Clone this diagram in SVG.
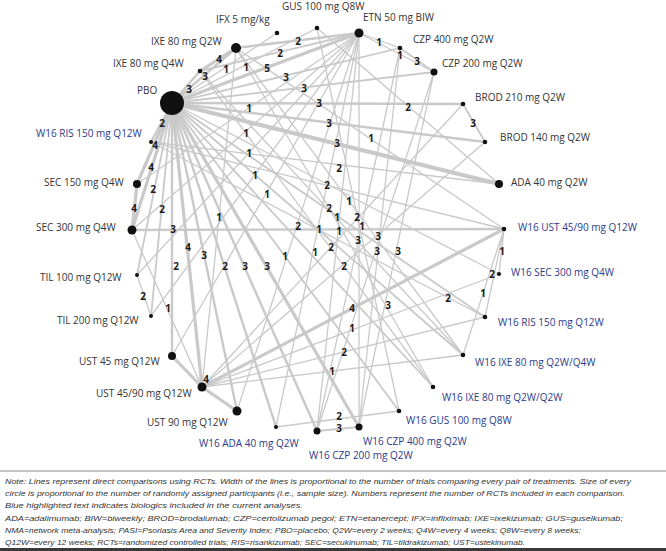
<svg xmlns="http://www.w3.org/2000/svg" width="666" height="551" viewBox="0 0 666 551">
<style>
.e line{stroke:#c9c9c9;fill:none;stroke-linecap:round}
.w1{stroke-width:1.3}.w2{stroke-width:1.8}.w3{stroke-width:2.4}.w4{stroke-width:3.2}.w5{stroke-width:4.2}
.n circle{fill:#111}
.t{font-family:"Open Sans","Liberation Sans",sans-serif;font-size:10px;fill:#333}
.b{fill:#2b3a8c}
.l{font-family:"Open Sans","Liberation Sans",sans-serif;font-size:10px;font-weight:700;fill:#1a1a1a;text-anchor:middle}
.note{font-family:"Liberation Sans",sans-serif;font-size:8px;font-style:italic;fill:#333}
</style>
<rect width="666" height="551" fill="#fff"/>
<g id="connectors" class="e">
<line class="w3" x1="172" y1="103" x2="200" y2="71"/>
<line class="w3" x1="172" y1="103" x2="236" y2="48"/>
<line class="w4" x1="236" y1="48" x2="200" y2="71"/>
<line class="w3" x1="359" y1="33" x2="236" y2="48"/>
<line class="w2" x1="359" y1="33" x2="200" y2="71"/>
<line class="w1" x1="172" y1="103" x2="277" y2="33"/>
<line class="w1" x1="172" y1="103" x2="317" y2="28"/>
<line class="w4" x1="172" y1="103" x2="359" y2="33"/>
<line class="w2" x1="172" y1="103" x2="400" y2="48"/>
<line class="w2" x1="172" y1="103" x2="434" y2="72"/>
<line class="w1" x1="359" y1="33" x2="400" y2="48"/>
<line class="w1" x1="359" y1="33" x2="434" y2="72"/>
<line class="w2" x1="400" y1="48" x2="434" y2="72"/>
<line class="w3" x1="172" y1="103" x2="463" y2="104"/>
<line class="w3" x1="172" y1="103" x2="485" y2="142"/>
<line class="w2" x1="463" y1="104" x2="485" y2="142"/>
<line class="w5" x1="172" y1="103" x2="499" y2="184"/>
<line class="w1" x1="137" y1="184" x2="359" y2="33"/>
<line class="w1" x1="132" y1="230" x2="359" y2="33"/>
<line class="w1" x1="137" y1="275" x2="359" y2="33"/>
<line class="w1" x1="151" y1="316" x2="359" y2="33"/>
<line class="w1" x1="172" y1="356" x2="359" y2="33"/>
<line class="w1" x1="237" y1="411" x2="359" y2="33"/>
<line class="w1" x1="236" y1="48" x2="202" y2="387"/>
<line class="w4" x1="172" y1="103" x2="137" y2="184"/>
<line class="w4" x1="172" y1="103" x2="132" y2="230"/>
<line class="w4" x1="137" y1="184" x2="132" y2="230"/>
<line class="w2" x1="172" y1="103" x2="137" y2="275"/>
<line class="w2" x1="172" y1="103" x2="151" y2="316"/>
<line class="w1" x1="137" y1="275" x2="151" y2="316"/>
<line class="w3" x1="172" y1="103" x2="172" y2="356"/>
<line class="w4" x1="172" y1="103" x2="202" y2="387"/>
<line class="w3" x1="172" y1="103" x2="237" y2="411"/>
<line class="w4" x1="172" y1="356" x2="202" y2="387"/>
<line class="w4" x1="202" y1="387" x2="237" y2="411"/>
<line class="w3" x1="132" y1="230" x2="504" y2="229"/>
<line class="w4" x1="202" y1="387" x2="504" y2="229"/>
<line class="w1" x1="202" y1="387" x2="499" y2="274"/>
<line class="w1" x1="202" y1="387" x2="485" y2="317"/>
<line class="w1" x1="202" y1="387" x2="463" y2="355"/>
<line class="w1" x1="504" y1="229" x2="499" y2="274"/>
<line class="w1" x1="504" y1="229" x2="485" y2="317"/>
<line class="w1" x1="504" y1="229" x2="463" y2="355"/>
<line class="w1" x1="236" y1="48" x2="504" y2="229"/>
<line class="w3" x1="172" y1="103" x2="276" y2="427"/>
<line class="w3" x1="172" y1="103" x2="317" y2="431"/>
<line class="w4" x1="172" y1="103" x2="359" y2="427"/>
<line class="w2" x1="317" y1="431" x2="359" y2="427"/>
<line class="w1" x1="359" y1="33" x2="359" y2="427"/>
<line class="w1" x1="359" y1="33" x2="317" y2="431"/>
<line class="w1" x1="276" y1="427" x2="399" y2="411"/>
<line class="w2" x1="172" y1="103" x2="399" y2="411"/>
<line class="w2" x1="172" y1="103" x2="433" y2="387"/>
<line class="w2" x1="172" y1="103" x2="463" y2="355"/>
<line class="w2" x1="172" y1="103" x2="485" y2="317"/>
<line class="w1" x1="151" y1="142" x2="485" y2="317"/>
<line class="w3" x1="172" y1="103" x2="151" y2="142"/>
<line class="w1" x1="202" y1="387" x2="463" y2="104"/>
<line class="w1" x1="202" y1="387" x2="485" y2="142"/>
<line class="w1" x1="236" y1="48" x2="433" y2="387"/>
<line class="w1" x1="236" y1="48" x2="463" y2="355"/>
<line class="w1" x1="200" y1="71" x2="433" y2="387"/>
<line class="w1" x1="200" y1="71" x2="463" y2="355"/>
<line class="w1" x1="317" y1="28" x2="399" y2="411"/>
<line class="w1" x1="317" y1="28" x2="499" y2="184"/>
<line class="w1" x1="359" y1="33" x2="276" y2="427"/>
<line class="w1" x1="400" y1="48" x2="359" y2="427"/>
<line class="w1" x1="400" y1="48" x2="317" y2="431"/>
<line class="w1" x1="434" y1="72" x2="317" y2="431"/>
<line class="w1" x1="434" y1="72" x2="359" y2="427"/>
<line class="w1" x1="151" y1="142" x2="499" y2="184"/>
<line class="w1" x1="151" y1="142" x2="504" y2="229"/>
<line class="w1" x1="172" y1="103" x2="499" y2="274"/>
<line class="w1" x1="132" y1="230" x2="202" y2="387"/>
</g>
<g id="edge-labels" class="l">
<text x="298" y="44.5">2</text><text x="280" y="56.5">2</text><text x="219" y="62.5">4</text>
<text x="226" y="72.5">1</text><text x="246" y="70.5">1</text><text x="267" y="71.5">5</text>
<text x="205" y="79.5">3</text><text x="189" y="92.5">3</text><text x="286" y="80.5">3</text>
<text x="304" y="91.5">3</text><text x="319" y="106.5">3</text><text x="249" y="111.5">1</text>
<text x="329" y="126.5">3</text><text x="162" y="126.5">2</text><text x="379" y="45.5">1</text>
<text x="400" y="58.5">1</text><text x="417" y="64.5">3</text><text x="408" y="110.5">2</text>
<text x="473" y="126.5">3</text><text x="246" y="136.5">1</text><text x="155" y="148.5">4</text>
<text x="151" y="170.5">4</text><text x="249" y="156.5">1</text><text x="255" y="178.5">1</text>
<text x="153" y="192.5">2</text><text x="267" y="197.5">1</text><text x="134" y="211.5">4</text>
<text x="162" y="212.5">2</text><text x="219" y="220.5">1</text><text x="173" y="232.5">3</text>
<text x="298" y="229.5">2</text><text x="371" y="141.5">1</text><text x="337" y="146.5">3</text>
<text x="339" y="171.5">2</text><text x="327" y="188.5">2</text><text x="349" y="204.5">1</text>
<text x="329" y="211.5">2</text><text x="337" y="220.5">1</text><text x="357" y="220.5">2</text>
<text x="319" y="232.5">1</text><text x="339" y="234.5">1</text><text x="362" y="230">1</text>
<text x="358" y="243.5">3</text><text x="378" y="239.5">3</text><text x="188" y="250.5">4</text>
<text x="204" y="258.5">3</text><text x="176" y="269.5">2</text><text x="225" y="269.5">2</text>
<text x="245" y="269.5">3</text><text x="267" y="269.5">3</text><text x="285" y="259.5">1</text>
<text x="315" y="255.5">1</text><text x="331" y="250.5">2</text><text x="377" y="254.5">3</text>
<text x="398" y="254.5">3</text><text x="344" y="269.5">2</text><text x="143" y="299.5">2</text>
<text x="168" y="311.5">1</text><text x="352" y="311.5">4</text><text x="388" y="308.5">3</text>
<text x="352" y="331.5">1</text><text x="344" y="355.5">2</text><text x="332" y="374.5">1</text>
<text x="339" y="419.5">2</text><text x="339" y="432">3</text><text x="206" y="382.5">4</text>
<text x="502" y="254.5">1</text><text x="492" y="277.5">2</text><text x="483" y="296.5">1</text>
<text x="448" y="301.5">2</text>
</g>
<g id="PBO" class="n"><circle cx="172" cy="103" r="12"/><text class="t" x="137" y="93.5">PBO</text></g>
<g id="IXE_Q4W" class="n"><circle cx="200" cy="71" r="2.3"/><text class="t" x="113" y="66.5">IXE 80 mg Q4W</text></g>
<g id="IXE_Q2W" class="n"><circle cx="236" cy="48" r="5"/><text class="t" x="151" y="44.5">IXE 80 mg Q2W</text></g>
<g id="IFX" class="n"><circle cx="277" cy="33" r="2.3"/><text class="t" x="216" y="22.5">IFX 5 mg/kg</text></g>
<g id="GUS" class="n"><circle cx="317" cy="28" r="2.3"/><text class="t" x="282" y="9.5">GUS 100 mg Q8W</text></g>
<g id="ETN" class="n"><circle cx="359" cy="33" r="4.5"/><text class="t" x="363" y="20.5">ETN 50 mg BIW</text></g>
<g id="CZP400" class="n"><circle cx="400" cy="48" r="2.3"/><text class="t" x="413" y="42.5">CZP 400 mg Q2W</text></g>
<g id="CZP200" class="n"><circle cx="434" cy="72" r="3.5"/><text class="t" x="442" y="66.5">CZP 200 mg Q2W</text></g>
<g id="BROD210" class="n"><circle cx="463" cy="104" r="2.3"/><text class="t" x="475" y="100.5">BROD 210 mg Q2W</text></g>
<g id="BROD140" class="n"><circle cx="485" cy="142" r="2.3"/><text class="t" x="500" y="140.5">BROD 140 mg Q2W</text></g>
<g id="ADA" class="n"><circle cx="499" cy="184" r="4"/><text class="t" x="511" y="185.5">ADA 40 mg Q2W</text></g>
<g id="W16UST" class="n"><circle cx="504" cy="229" r="2.3"/><text class="t b" x="518" y="230.5">W16 UST 45/90 mg Q12W</text></g>
<g id="W16SEC" class="n"><circle cx="499" cy="274" r="2"/><text class="t b" x="511" y="275.5">W16 SEC 300 mg Q4W</text></g>
<g id="W16RIS_R" class="n"><circle cx="485" cy="317" r="2.3"/><text class="t b" x="498" y="325.5">W16 RIS 150 mg Q12W</text></g>
<g id="W16IXE24" class="n"><circle cx="463" cy="355" r="2.3"/><text class="t b" x="475" y="365.5">W16 IXE 80 mg Q2W/Q4W</text></g>
<g id="W16IXE22" class="n"><circle cx="433" cy="387" r="2.3"/><text class="t b" x="442" y="400.5">W16 IXE 80 mg Q2W/Q2W</text></g>
<g id="W16GUS" class="n"><circle cx="399" cy="411" r="2.3"/><text class="t b" x="406" y="423.5">W16 GUS 100 mg Q8W</text></g>
<g id="W16CZP400" class="n"><circle cx="359" cy="427" r="3.5"/><text class="t b" x="363" y="444.5">W16 CZP 400 mg Q2W</text></g>
<g id="W16CZP200" class="n"><circle cx="317" cy="431" r="3.5"/><text class="t b" x="309" y="458.5">W16 CZP 200 mg Q2W</text></g>
<g id="W16ADA" class="n"><circle cx="276" cy="427" r="2"/><text class="t b" x="199" y="446.5">W16 ADA 40 mg Q2W</text></g>
<g id="UST90" class="n"><circle cx="237" cy="411" r="4.5"/><text class="t" x="147" y="425.5">UST 90 mg Q12W</text></g>
<g id="UST4590" class="n"><circle cx="202" cy="387" r="4.5"/><text class="t" x="96" y="396.5">UST 45/90 mg Q12W</text></g>
<g id="UST45" class="n"><circle cx="172" cy="356" r="4"/><text class="t" x="79" y="364.5">UST 45 mg Q12W</text></g>
<g id="TIL200" class="n"><circle cx="151" cy="316" r="2"/><text class="t" x="57" y="323.5">TIL 200 mg Q12W</text></g>
<g id="TIL100" class="n"><circle cx="137" cy="275" r="2"/><text class="t" x="40" y="280.5">TIL 100 mg Q12W</text></g>
<g id="SEC300" class="n"><circle cx="132" cy="230" r="4.5"/><text class="t" x="36" y="230.5">SEC 300 mg Q4W</text></g>
<g id="SEC150" class="n"><circle cx="137" cy="184" r="4"/><text class="t" x="44" y="185.5">SEC 150 mg Q4W</text></g>
<g id="W16RIS_L" class="n"><circle cx="151" cy="142" r="2"/><text class="t b" x="36" y="136.5">W16 RIS 150 mg Q12W</text></g>
<g id="note">
<line x1="0" y1="471" x2="666" y2="471" stroke="#8a8a8a" stroke-width="1"/>
<text class="note" x="5" y="484" textLength="626" lengthAdjust="spacingAndGlyphs">Note: Lines represent direct comparisons using RCTs. Width of the lines is proportional to the number of trials comparing every pair of treatments. Size of every</text>
<text class="note" x="5" y="496" textLength="620" lengthAdjust="spacingAndGlyphs">circle is proportional to the number of randomly assigned participants (i.e., sample size). Numbers represent the number of RCTs included in each comparison.</text>
<text class="note" x="5" y="508" textLength="298" lengthAdjust="spacingAndGlyphs">Blue highlighted text indicates biologics included in the current analyses.</text>
<text class="note" x="5" y="521" textLength="618" lengthAdjust="spacingAndGlyphs">ADA=adalimumab; BIW=biweekly; BROD=brodalumab; CZP=certolizumab pegol; ETN=etanercept; IFX=infliximab; IXE=ixekizumab; GUS=guselkumab;</text>
<text class="note" x="5" y="533" textLength="576" lengthAdjust="spacingAndGlyphs">NMA=network meta-analysis; PASI=Psoriasis Area and Severity Index; PBO=placebo; Q2W=every 2 weeks; Q4W=every 4 weeks; Q8W=every 8 weeks;</text>
<text class="note" x="5" y="545" textLength="520" lengthAdjust="spacingAndGlyphs">Q12W=every 12 weeks; RCTs=randomized controlled trials; RIS=risankizumab; SEC=secukinumab; TIL=tildrakizumab; UST=ustekinumab.</text>
<rect x="0" y="548" width="666" height="3" fill="#3a3a3a"/>
</g>
</svg>
